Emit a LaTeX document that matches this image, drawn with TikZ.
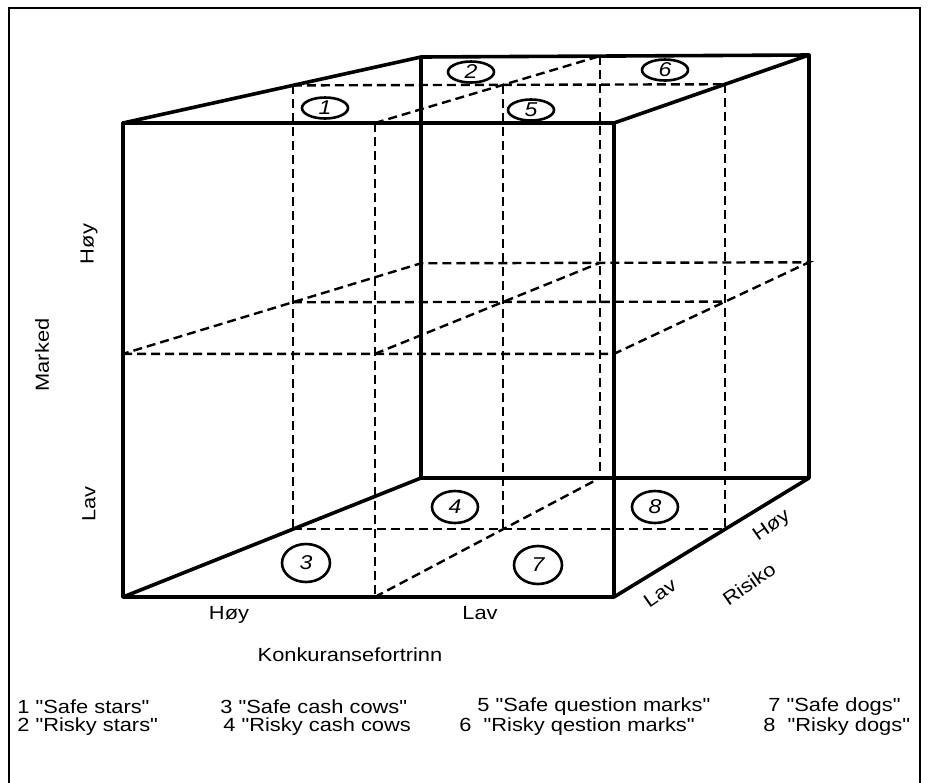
\documentclass[tikz,border=0pt]{standalone}
\usepackage{fontspec}
\setmainfont{Liberation Sans}[Ligatures=TeXOff, FakeStretch=1.15]
\usetikzlibrary{shapes.geometric, calc}

\begin{document}
\begin{tikzpicture}[x=0.5pt, y=-0.5pt,
        edge/.style={draw=black, line width=1.8pt, line join=round, line cap=round},
        gridline/.style={draw=black, line width=1.2pt, dash pattern=on 4.5pt off 2.5pt},
        cell/.style={ellipse, draw=black, line width=1.3pt, fill=white, inner sep=0pt, minimum width=23pt, minimum height=10.5pt, font=\fontsize{10}{12}\selectfont\itshape},
        lbl/.style={inner sep=0pt, font=\fontsize{9.5}{11}\selectfont},
        legend/.style={lbl, anchor=west}
    ]
        \useasboundingbox (0,0) rectangle (928,783);
        % Ramme
        \draw [line width=1pt] (9,783) -- (9,8) -- (920,8) -- (920,783);

        % Hjørner i kuben
        \coordinate (ftl) at (123,123);
        \coordinate (ftr) at (614,123);
        \coordinate (fbl) at (123,597);
        \coordinate (fbr) at (614,597);
        \coordinate (btl) at (421,57);
        \coordinate (btr) at (809,55);
        \coordinate (bbl) at (421,478);
        \coordinate (bbr) at (809,478);

        % Midtpunkter foran og bak
        \coordinate (fml) at ($(ftl)!0.487!(fbl)$);
        \coordinate (fmr) at ($(ftr)!0.487!(fbr)$);
        \coordinate (bml) at ($(btl)!0.49!(bbl)$);
        \coordinate (bmr) at ($(btr)!0.49!(bbr)$);
        \coordinate (ftc) at ($(ftl)!0.513!(ftr)$);
        \coordinate (fmc) at ($(fml)!0.513!(fmr)$);
        \coordinate (fbc) at ($(fbl)!0.513!(fbr)$);
        \coordinate (btc) at ($(btl)!0.461!(btr)$);
        \coordinate (bmc) at ($(bml)!0.461!(bmr)$);
        \coordinate (bbc) at ($(bbl)!0.461!(bbr)$);

        % Midtplanet i dybden
        \coordinate (dtl) at ($(ftl)!0.57!(btl)$);
        \coordinate (dtc) at ($(ftc)!0.57!(btc)$);
        \coordinate (dtr) at ($(ftr)!0.57!(btr)$);
        \coordinate (dml) at ($(fml)!0.57!(bml)$);
        \coordinate (dmr) at ($(fmr)!0.57!(bmr)$);
        \coordinate (dbl) at ($(fbl)!0.57!(bbl)$);
        \coordinate (dbc) at ($(fbc)!0.57!(bbc)$);
        \coordinate (dbr) at ($(fbr)!0.57!(bbr)$);

        % Stiplede skillelinjer
        \draw [gridline] (fml) -- (fmr) -- (bmr) -- (bml) -- cycle;
        \draw [gridline] (dtl) -- (dtr);
        \draw [gridline] (dml) -- (dmr);
        \draw [gridline] (dbl) -- (dbr);
        \draw [gridline] (ftc) -- (btc);
        \draw [gridline] (fmc) -- (bmc);
        \draw [gridline] (fbc) -- (bbc);
        \draw [gridline] (ftc) -- (fbc);
        \draw [gridline] (btc) -- (bbc);
        \draw [gridline] (dtl) -- (dbl);
        \draw [gridline] (dtc) -- (dbc);
        \draw [gridline] (dtr) -- (dbr);

        % Kantene
        \draw [edge] (ftl) -- (ftr) -- (fbr) -- (fbl) -- cycle;
        \draw [edge] (btl) -- (btr) -- (bbr) -- (bbl) -- cycle;
        \draw [edge] (ftl) -- (btl);
        \draw [edge] (ftr) -- (btr);
        \draw [edge] (fbl) -- (bbl);
        \draw [edge] (fbr) -- (bbr);

        % Nummererte celler
        \node [cell] (c1) at (325,108) {1};
        \node [cell] (c2) at (471,72) {2};
        \node [cell] (c5) at (531,110) {5};
        \node [cell] (c6) at (665,70) {6};
        \node [cell, minimum height=16pt] (c4) at (455,507) {4};
        \node [cell, minimum height=16pt] (c8) at (655,507) {8};
        \node [cell, minimum width=24pt, minimum height=19pt] (c3) at (306,563) {3};
        \node [cell, minimum width=24pt, minimum height=19pt] (c7) at (538,565) {7};

        % Akser
        \node [lbl] (hoyK) at (229,615) {Høy};
        \node [lbl] (lavK) at (480,613) {Lav};
        \node [lbl] (konk) at (350,655) {Konkuransefortrinn};
        \node [lbl, rotate=90] (marked) at (42,355) {Marked};
        \node [lbl, rotate=90] (hoyM) at (89,244) {Høy};
        \node [lbl, rotate=90] (lavM) at (89,504) {Lav};
        \node [lbl, rotate=35] (lavR) at (660,593) {Lav};
        \node [lbl, rotate=35] (risiko) at (749,584) {Risiko};
        \node [lbl, rotate=35] (hoyR) at (772,526) {Høy};

        % Forklaring
        \node [legend] (l1) at (17,707) {1 "Safe stars"};
        \node [legend] (l2) at (17,727) {2 "Risky stars"};
        \node [legend] (l3) at (220,707) {3 "Safe cash cows"};
        \node [legend] (l4) at (223,727) {4 "Risky cash cows};
        \node [legend] (l5) at (477,707) {5 "Safe question marks"};
        \node [legend] (l6) at (459,727) {6~ "Risky qestion marks"};
        \node [legend] (l7) at (768,707) {7 "Safe dogs"};
        \node [legend] (l8) at (763,727) {8~ "Risky dogs"};
    \end{tikzpicture}
\end{document}
